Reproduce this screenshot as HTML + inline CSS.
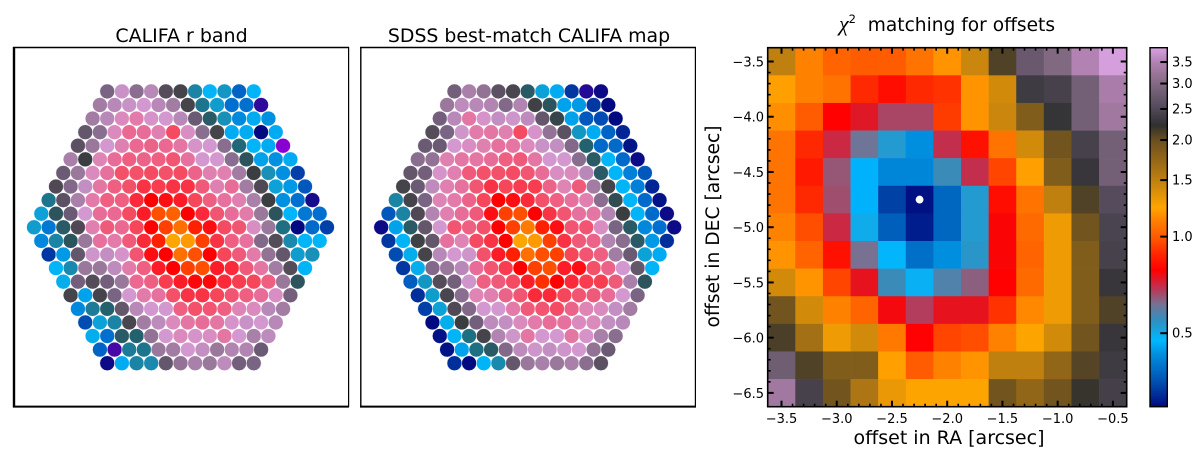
<!DOCTYPE html>
<html lang="en">
<head>
<meta charset="utf-8">
<title>CALIFA and SDSS matching</title>
<style>
html,body{margin:0;padding:0;background:#fff;width:1200px;height:452px;overflow:hidden}
svg{display:block}
text{font-family:"DejaVu Sans","Liberation Sans",sans-serif;fill:#000}
</style>
</head>
<body>
<svg id="fig" xmlns="http://www.w3.org/2000/svg" width="1200" height="452" viewBox="0 0 1200 452">
<rect x="0" y="0" width="1200" height="452" fill="#fff"/>
<text x="181.5" y="42" font-size="19" text-anchor="middle">CALIFA r band</text>
<text x="529" y="42" font-size="18.9" text-anchor="middle">SDSS best-match CALIFA map</text>
<g id="leftHex"></g>
<g id="midHex"></g>
<g stroke="#000" fill="none">
<line x1="14" y1="47" x2="14" y2="407.5" stroke-width="2.4"/>
<line x1="13" y1="47.5" x2="349" y2="47.5" stroke-width="1.4"/>
<line x1="348.6" y1="47" x2="348.6" y2="407" stroke-width="1.2"/>
<line x1="13" y1="406.6" x2="349" y2="406.6" stroke-width="2"/>
</g>
<g stroke="#000" fill="none">
<line x1="360.8" y1="47" x2="360.8" y2="407.5" stroke-width="1.4"/>
<line x1="360" y1="47.5" x2="696" y2="47.5" stroke-width="1.4"/>
<line x1="695.4" y1="47" x2="695.4" y2="407" stroke-width="1.2"/>
<line x1="360" y1="406.6" x2="696" y2="406.6" stroke-width="2"/>
</g>
<g id="heat"></g>
<g id="heatAxes"></g>
<g id="cbar"></g>
<text x="947" y="31" font-size="18.6" text-anchor="middle"><tspan font-family="Liberation Serif" font-style="italic" font-size="22">χ</tspan><tspan font-size="11.5" dy="-8">2</tspan><tspan dy="8" xml:space="preserve">  matching for offsets</tspan></text>
<text x="949" y="444" font-size="19" text-anchor="middle">offset in RA [arcsec]</text>
<text x="0" y="0" font-size="18.7" text-anchor="middle" transform="translate(719 226.5) rotate(-90)">offset in DEC [arcsec]</text>
</svg>
<script>
// Left panel: relative fibre flux index per hexagon row (0-100)
var califaRows = [
[58,69,60,66,53,50,38,30,35,20,30],
[63,66,69,71,66,63,50,40,34,22,22,4],
[63,66,74,77,72,71,66,56,44,36,25,29,26],
[55,60,74,81,80,76,87,73,60,50,29,29,8,29],
[54,62,71,76,81,82,81,78,72,71,60,42,30,29,0],
[64,48,75,80,83,82,83,85,79,71,71,60,45,28,26,29],
[56,62,74,79,86,86,87,86,87,82,76,76,63,48,36,26,14],
[52,59,68,78,83,86,90,89,90,90,84,76,80,63,52,33,27,18],
[40,54,64,77,83,83,91,94,93,92,88,83,79,76,64,48,26,22,6],
[33,45,56,71,80,81,87,92,96.5,97,94,91,85,80,77,62,45,30,23,22],
[34,23,44,52,76,84,81,88,94,96,97.5,95,93,87,85,73,62,41,8,21,14],
[25,38,45,62,79,77,84,91,95,100,99.5,96,90,83,79,59,53,37,30,30],
[13,27,55,70,68,72,85,93,94,97.5,96.5,94,88,84,77,61,55,34,36],
[30,37,62,62,67,77,83,92,94,96,96.5,92,91,84,78,63,53,30],
[31,57,53,57,62,81,83,89,92,93.5,93.5,91,89,88,83,62,45],
[50,28,50,58,71,77,79,86,90,90,88,85,83,80,73,57],
[25,39,43,55,66,71,71,83,86,85,83,75,74,66,63],
[16,33,38,51,63,67,74,78,80,78,72,69,71,66],
[31,22,44,43,61,71,74,72,73,78,71,64,67],
[20,3,39,40,62,63,71,68,62,65,65,56],
[7,29,38,37,55,61,64,62,67,57,58]
];
// Middle panel: relative fibre flux index per hexagon row (0-100)
var sdssRows = [
[57,64,61,54,51,44,33,29,13,5,7],
[62,67,66,65,59,65,49,45,28,27,13,8],
[57,66,78,72,68,70,67,55,47,28,18,16,8],
[53,58,70,77,78,76,87,72,61,54,35,29,20,11],
[56,56,71,73,76,79,78,74,69,68,59,43,21,21,9],
[60,61,76,78,78,80,83,84,78,71,71,60,44,30,21,7],
[55,57,72,76,84,86,86,87,85,80,73,74,66,44,30,24,18],
[50,56,67,76,79,85,90,88,89,89,82,75,84,63,50,30,24,11],
[38,50,58,75,77,82,88,94,93,91,86,83,79,76,60,46,30,21,9],
[18,38,52,65,76,80,84,93,96,96.5,94,90,85,79,78,65,48,30,21,7],
[7,28,44,55,71,85,83,86,94,96,98,95,93,85,85,73,58,44,25,22,7],
[13,30,49,55,79,75,87,90,94,100,99.5,96,90,84,82,65,60,44,27,12],
[16,31,50,66,71,70,86,92,95,97.5,96.5,96,88,85,83,63,56,33,29],
[13,31,59,62,66,80,85,89,94,96,96.5,92,93,86,82,71,55,30],
[19,35,53,57,70,83,84,87,92,95.5,94,91,89,89,84,64,45],
[12,34,51,60,75,76,82,85,91,91,88,85,84,80,71,58],
[14,33,52,59,71,71,77,84,85,87,82,75,74,68,63],
[8,31,48,57,67,68,74,77,80,79,74,74,68,66],
[9,30,41,50,65,70,78,71,71,78,72,64,60],
[9,28,41,44,59,67,70,68,70,71,61,56],
[12,8,30,37,55,62,64,62,64,60,54]
];
// Chi-square heatmap: rows from DEC -3.5 down to -6.5, columns RA -3.5 to -0.5
var chiRows = [
[1.50,1.13,1.03,1.00,1.00,1.08,1.18,1.45,2.10,2.75,3.00,3.50,3.85],
[1.22,1.13,1.08,0.89,0.82,0.89,0.91,1.18,1.42,2.35,2.42,2.85,3.40],
[1.17,1.00,0.79,0.74,0.67,0.67,0.93,1.18,1.45,1.85,2.27,2.85,3.30],
[1.08,0.89,0.71,0.61,0.53,0.43,0.70,0.83,1.08,1.42,1.95,2.42,2.85],
[1.08,0.85,0.65,0.47,0.42,0.42,0.56,0.70,0.95,1.22,1.85,2.30,2.85],
[1.08,0.89,0.66,0.47,0.34,0.30,0.38,0.53,0.82,1.08,1.50,2.10,2.55],
[1.13,0.97,0.71,0.50,0.37,0.31,0.38,0.53,0.78,1.05,1.30,1.95,2.45],
[1.18,1.03,0.83,0.62,0.48,0.39,0.43,0.54,0.78,1.03,1.30,1.85,2.42],
[1.42,1.18,0.95,0.75,0.56,0.49,0.58,0.64,0.79,1.05,1.30,1.85,2.30],
[1.95,1.42,1.13,1.03,0.77,0.68,0.75,0.75,0.91,1.15,1.30,1.85,2.10],
[2.12,1.65,1.30,1.42,1.10,0.79,0.95,0.97,1.13,1.24,1.42,1.95,2.30],
[2.80,2.10,1.85,1.85,1.22,1.00,1.13,1.18,1.50,1.50,1.75,2.08,2.35],
[3.30,2.42,1.95,1.60,1.32,1.24,1.24,1.24,1.95,1.75,1.95,2.20,2.40]
];
var raValues = [-3.5,-3.25,-3,-2.75,-2.5,-2.25,-2,-1.75,-1.5,-1.25,-1,-0.75,-0.5];
var decValues = [-3.5,-3.75,-4,-4.25,-4.5,-4.75,-5,-5.25,-5.5,-5.75,-6,-6.25,-6.5];
var xTickLabels = [-3.5,-3,-2.5,-2,-1.5,-1,-0.5];
var yTickLabels = [-3.5,-4,-4.5,-5,-5.5,-6,-6.5];
var cbarTickLabels = [0.5,1,1.5,2,2.5,3,3.5];
var bestRA = [-2.25];
var bestDEC = [-4.75];
var chiMin = 0.295, chiMax = 3.88;

var NS = 'http://www.w3.org/2000/svg';
function mk(tag, parent, attrs) {
  var e = document.createElementNS(NS, tag);
  for (var k in attrs) e.setAttribute(k, attrs[k]);
  parent.appendChild(e);
  return e;
}
function lerpStops(stops, t) {
  if (t <= stops[0][0]) return stops[0][1];
  for (var i = 1; i < stops.length; i++) {
    if (t <= stops[i][0]) {
      var a = stops[i - 1], b = stops[i], f = (t - a[0]) / (b[0] - a[0]);
      var ca = a[1], cb = b[1];
      return [ca[0] + (cb[0] - ca[0]) * f, ca[1] + (cb[1] - ca[1]) * f, ca[2] + (cb[2] - ca[2]) * f];
    }
  }
  return stops[stops.length - 1][1];
}
function rgb(c) { return 'rgb(' + Math.round(c[0]) + ',' + Math.round(c[1]) + ',' + Math.round(c[2]) + ')'; }

var fibreStops = [
[0,[138,0,208]],[4,[48,10,154]],[8,[0,10,128]],[14,[0,64,168]],[22,[0,112,208]],[26,[0,144,224]],[30,[0,180,248]],
[36,[24,144,184]],[42,[32,104,120]],[48,[58,62,64]],[53,[85,76,90]],[58,[122,100,132]],[62,[154,120,156]],[66,[184,136,184]],
[71,[212,152,208]],[76,[224,128,176]],[80,[232,108,152]],[84,[240,90,122]],[88,[245,70,90]],[91,[250,42,58]],[94,[255,0,0]],
[96.5,[255,80,0]],[97.5,[255,112,0]],[100,[255,165,0]]
];
var heatStops = [
[0,[0,10,128]],[0.07,[0,80,176]],[0.149,[0,144,224]],[0.186,[0,184,255]],[0.242,[48,144,192]],[0.289,[122,112,144]],
[0.333,[192,48,80]],[0.381,[255,0,0]],[0.428,[255,40,0]],[0.473,[255,90,0]],[0.52,[255,128,0]],[0.556,[255,165,0]],
[0.631,[192,128,16]],[0.743,[106,80,32]],[0.785,[48,48,48]],[0.83,[80,72,88]],[0.897,[128,104,128]],[0.958,[176,128,176]],[1,[216,160,224]]
];

function drawHex(group, rows, cx, cy, dx, dy, name) {
  var mid = (rows.length - 1) / 2;
  rows.forEach(function (row, r) {
    row.forEach(function (v, c) {
      var dot = mk('circle', group, {
        cx: cx + (c - (row.length - 1) / 2) * dx,
        cy: cy + (r - mid) * dy,
        r: 7.45,
        fill: rgb(lerpStops(fibreStops, v)),
        stroke: '#fff',
        'stroke-width': 0.45
      });
      
      
    });
  });
}
drawHex(document.getElementById('leftHex'), califaRows, 180.5, 227.3, 14.65, 13.59, 'califa-fibre');
drawHex(document.getElementById('midHex'), sdssRows, 527.7, 227.3, 14.65, 13.59, 'sdss-fibre');

// Heatmap axes
var L = 767.7, R = 1126.7, T = 47.7, B = 406.7;
var raMin = -3.625, raMax = -0.375, decTop = -3.375, decBot = -6.625;
function xScale(v) { return L + (v - raMin) / (raMax - raMin) * (R - L); }
function yScale(v) { return T + (v - decTop) / (decBot - decTop) * (B - T); }
function norm(v) { return Math.log(v / chiMin) / Math.log(chiMax / chiMin); }
var cellW = (R - L) / chiRows[0].length, cellH = (B - T) / chiRows.length;
var heat = document.getElementById('heat');
chiRows.forEach(function (row, r) {
  row.forEach(function (v, c) {
    var cell = mk('rect', heat, {
      x: xScale(raValues[c]) - cellW / 2,
      y: yScale(decValues[r]) - cellH / 2,
      width: cellW + 0.3,
      height: cellH + 0.3,
      fill: rgb(lerpStops(heatStops, norm(v)))
    });
    
    
  });
});
var best = mk('circle', heat, { cx: xScale(bestRA[0]), cy: yScale(bestDEC[0]), r: 3.9, fill: '#fff' });



var axes = document.getElementById('heatAxes');
function tick(x1, y1, x2, y2, w, name) {
  var t = mk('line', axes, { x1: x1, y1: y1, x2: x2, y2: y2, stroke: '#000', 'stroke-width': w });
  
  
}
function label(parent, x, y, s, anchor, name) {
  var t = mk('text', parent, { x: x, y: y, 'font-size': 13, 'text-anchor': anchor });
  t.textContent = s;
  
  
}
function fmt(v) { return (v < 0 ? '\u2212' : '') + Math.abs(v).toFixed(1); }
for (var i = 0; i <= 30; i++) {
  var major = i % 5 === 0;
  var len = major ? 6 : 3, w = major ? 2 : 1.6;
  var px = xScale(-3.5 + i * 0.1);
  tick(px, B, px, B - len, w, 'x-tick');
  tick(px, T, px, T + len, w, 'x-tick-top');
  var py = yScale(-3.5 - i * 0.1);
  tick(L, py, L + len, py, w, 'y-tick');
  tick(R, py, R - len, py, w, 'y-tick-right');
}
xTickLabels.forEach(function (v) { label(axes, xScale(v), 423, fmt(v), 'middle', 'x-tick-label'); });
yTickLabels.forEach(function (v) { label(axes, 764, yScale(v) + 5, fmt(v), 'end', 'y-tick-label'); });
var frame = mk('rect', axes, { x: L, y: T, width: R - L, height: B - T, fill: 'none', stroke: '#000', 'stroke-width': 1.6 });



// Colorbar
var cb = document.getElementById('cbar');
var cL = 1150, cR = 1167.3;
function cbY(v) { return B - norm(v) * (B - T); }
for (var s = 0; s < 180; s++) {
  var seg = mk('rect', cb, {
    x: cL,
    y: B - (s + 1) / 180 * (B - T),
    width: cR - cL,
    height: (B - T) / 180 + 0.4,
    fill: rgb(lerpStops(heatStops, (s + 0.5) / 180))
  });
  
  
}
var cbFrame = mk('rect', cb, { x: cL, y: T, width: cR - cL, height: B - T, fill: 'none', stroke: '#000', 'stroke-width': 1.4 });


cbarTickLabels.forEach(function (v) {
  var y = cbY(v);
  var t = mk('line', cb, { x1: cR - 7, y1: y, x2: cR, y2: y, stroke: '#000', 'stroke-width': 2 });
  
  
  label(cb, 1172, y + 4.5, v.toFixed(1), 'start', 'colorbar-tick-label');
});
</script>
</body>
</html>
